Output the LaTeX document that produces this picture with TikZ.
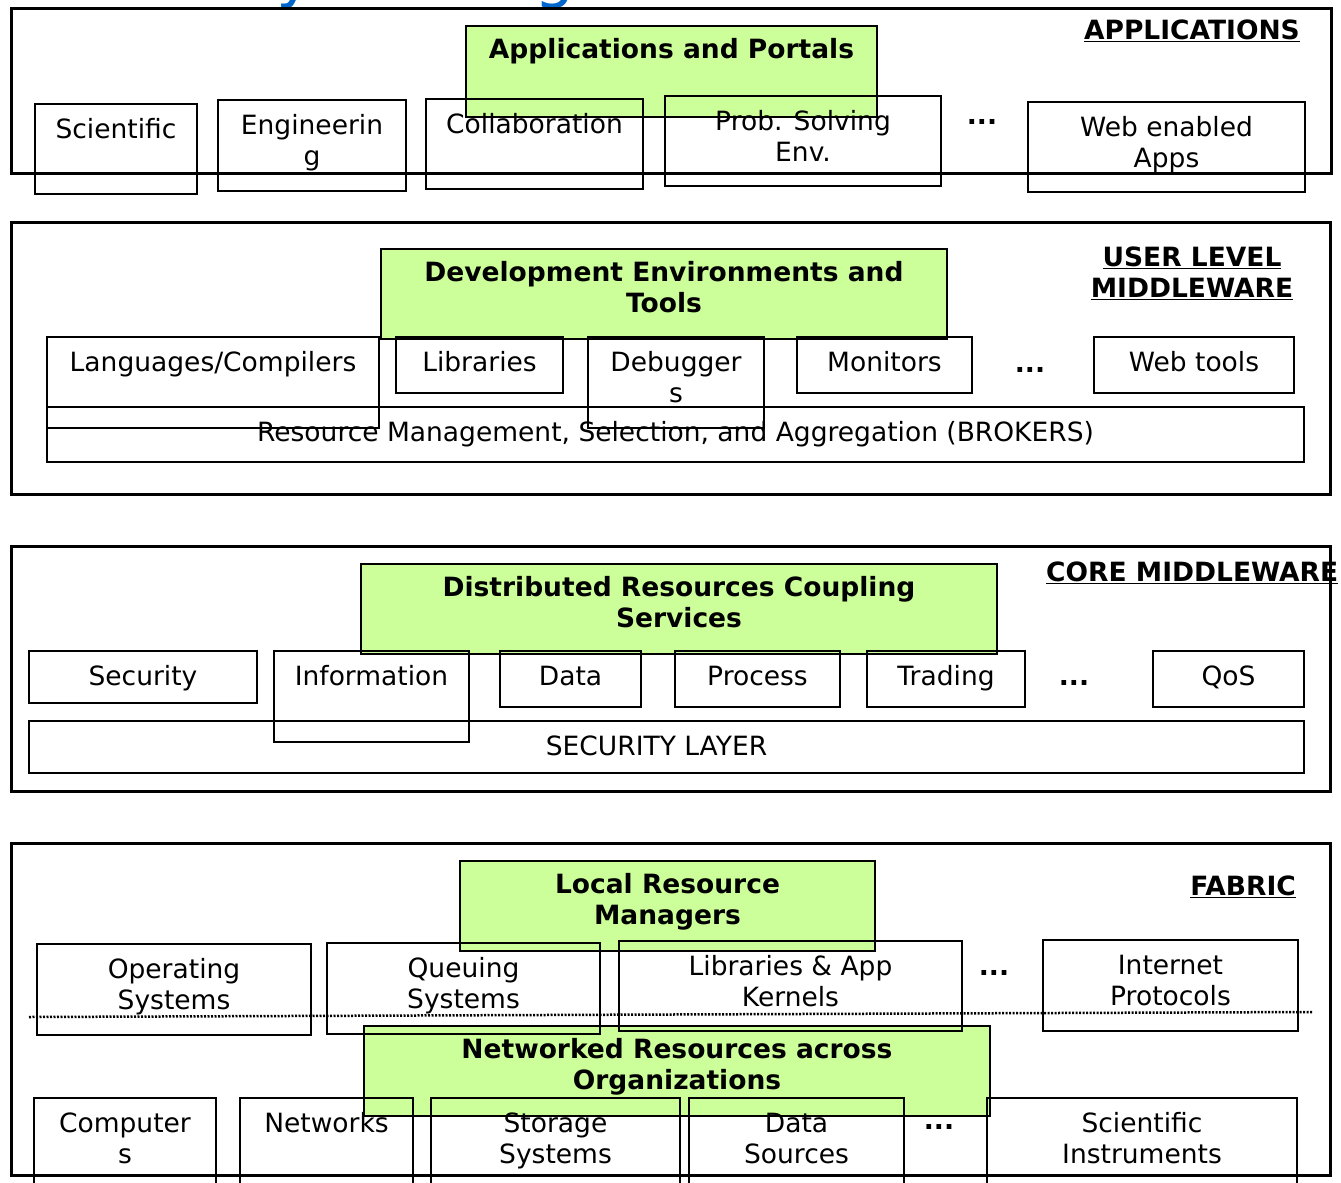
\documentclass[tikz,border=0pt]{standalone}
\usepackage{fontspec}
\setmainfont{DejaVu Sans}
\usetikzlibrary{fit,calc}
\definecolor{lgreen}{RGB}{204,255,153}
\definecolor{tblue}{RGB}{0,102,204}
\tikzset{
  layerbox/.style={draw=black, line width=3pt, inner sep=0pt},
  wbox/.style={draw=black, line width=2pt, inner sep=0pt},
  gbox/.style={draw=black, fill=lgreen, line width=2.5pt, inner sep=0pt},
  txt/.style={inner sep=0pt, align=center, anchor=base, font=\fontsize{26.5}{31}\selectfont},
  btxt/.style={inner sep=0pt, align=center, anchor=base, font=\fontsize{26.5}{31}\selectfont\bfseries},
  dotline/.style={draw=black, line width=2.5pt, dash pattern=on 2pt off 1.5pt},
  bluetxt/.style={inner sep=0pt, anchor=base west, text=tblue, font=\fontsize{64}{70}\selectfont},
}
% white box: [baseline offset of last line], name, x1, y1, x2, y2, text
\newcommand\mywbox[7][35]{%
  \node[wbox, fit={(#3,#4) (#5,#6)}] (#2) {};
  \node[txt] (#2-t) at ($(#2.north)+(0,#1)$) {#7};
}
% green box: [baseline offset of last line], name, x1, y1, x2, y2, text
\newcommand\mygbox[7][34]{%
  \node[gbox, fit={(#3,#4) (#5,#6)}] (#2) {};
  \node[btxt] (#2-t) at ($(#2.north)+(0,#1)$) {#7};
}
\begin{document}
\begin{tikzpicture}[x=1pt, y=-1pt]
\useasboundingbox (0,0) rectangle (1341,1183);

% cut-off blue title glyphs
\node[bluetxt] (ty) at (276,-5) {y};
\node[bluetxt] (tg) at (534,-5) {g};

% layer labels
\node[btxt, anchor=base east] (lab1) at (1300,39.5) {\underline{APPLICATIONS}};
\node[btxt] (lab2) at (1192,297.5) {\underline{USER LEVEL}\\\underline{MIDDLEWARE}};
\node[btxt, anchor=base west] (lab3) at (1046,581.5) {\underline{CORE MIDDLEWARE}};
\node[btxt, anchor=base east] (lab4) at (1296,895.5) {\underline{FABRIC}};

% ---------- APPLICATIONS ----------
\mygbox{ap}{466}{26}{877}{117}{Applications and Portals}
\mywbox{sci}{35}{104}{197}{194}{Scientific}
\mywbox[66]{eng}{218}{100}{406}{191}{Engineerin\\g}
\mywbox{col}{426}{99}{643}{189}{Collaboration}
\mywbox[66]{pse}{665}{96}{941}{186}{Prob. Solving\\Env.}
\mywbox[66]{web}{1028}{102}{1305}{192}{Web enabled\\Apps}
\node[btxt] (d1) at (982,124) {...};

% ---------- USER LEVEL MIDDLEWARE ----------
\mygbox[65]{dev}{381}{249}{947}{339}{Development Environments and\\Tools}
\mywbox{rm}{47}{407}{1304}{462}{Resource Management, Selection, and Aggregation (BROKERS)}
\mywbox{lang}{47}{337}{379}{428}{Languages/Compilers}
\mywbox{lib}{396}{337}{563}{393}{Libraries}
\mywbox[66]{dbg}{588}{337}{764}{428}{Debugger\\s}
\mywbox{mon}{797}{337}{972}{393}{Monitors}
\mywbox{wt}{1094}{337}{1294}{393}{Web tools}
\node[btxt] (d2) at (1030,372) {...};

% ---------- CORE MIDDLEWARE ----------
\mygbox[65]{drc}{361}{564}{997}{654}{Distributed Resources Coupling\\Services}
\node[wbox, fit={(29,721) (1304,773)}] (sl) {};
\node[txt] (sl-t) at ($(sl.north)+(-10,35.5)$) {SECURITY LAYER};
\mywbox{sec}{29}{651}{257}{703}{Security}
\mywbox{inf}{274}{651}{469}{742}{Information}
\mywbox{dat}{500}{651}{641}{707}{Data}
\mywbox{pro}{675}{651}{840}{707}{Process}
\mywbox{tra}{867}{651}{1025}{707}{Trading}
\mywbox{qos}{1153}{651}{1304}{707}{QoS}
\node[btxt] (d3) at (1074,685) {...};

% ---------- FABRIC ----------
\mygbox[65]{lrm}{460}{861}{875}{951}{Local Resource\\Managers}
\mygbox[65]{nro}{364}{1026}{990}{1116}{Networked Resources across\\Organizations}
\mywbox[66]{os}{37}{944}{311}{1035}{Operating\\Systems}
\mywbox[66]{qs}{327}{943}{600}{1034}{Queuing\\Systems}
\mywbox[66]{lak}{619}{941}{962}{1031}{Libraries \& App\\Kernels}
\mywbox[66]{ip}{1043}{940}{1298}{1031}{Internet\\Protocols}
\node[btxt] (d4) at (994,975) {...};
\coordinate (dl1) at (29,1017);
\coordinate (dl2) at (1312,1012);
\draw[dotline] (dl1) -- (dl2);
\mywbox[66]{cmp}{34}{1098}{216}{1196}{Computer\\s}
\mywbox{net}{240}{1098}{413}{1196}{Networks}
\mywbox[66]{sto}{431}{1098}{680}{1196}{Storage\\Systems}
\mywbox[66]{dsrc}{689}{1098}{904}{1196}{Data\\Sources}
\mywbox[66]{si}{987}{1098}{1297}{1196}{Scientific\\Instruments}
\node[btxt] (d5) at (939,1129) {...};

% layer frames
\node[layerbox, fit={(11,8) (1331,173)}] (L1) {};
\node[layerbox, fit={(11,222) (1330,494)}] (L2) {};
\node[layerbox, fit={(11,546) (1330,791)}] (L3) {};
\node[layerbox, fit={(11,843) (1330,1175)}] (L4) {};
\end{tikzpicture}
\end{document}
